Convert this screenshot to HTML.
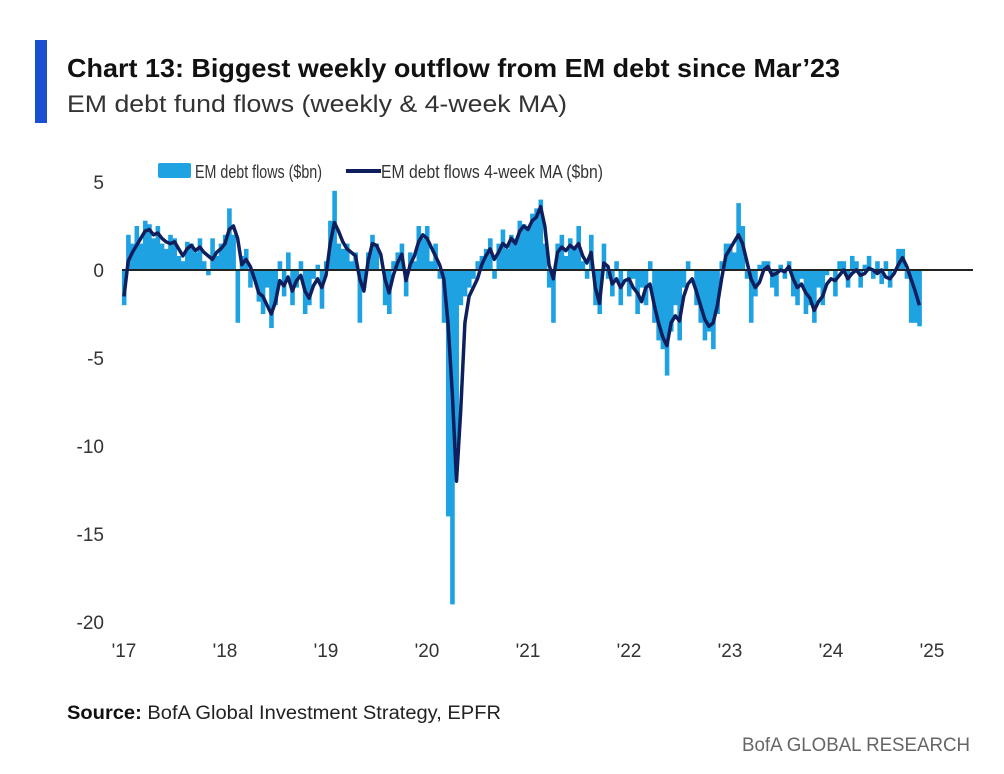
<!DOCTYPE html>
<html><head><meta charset="utf-8"><style>
html,body{margin:0;padding:0;background:#fff;}
svg{display:block;font-family:"Liberation Sans Narrow","Liberation Sans",sans-serif;}
</style></head><body>
<svg id="chart" width="1004" height="774" viewBox="0 0 1004 774" xmlns="http://www.w3.org/2000/svg">
<rect x="35" y="40" width="12" height="83" fill="#1b4fd1"/>
<text x="67" y="77" font-size="26" font-weight="bold" fill="#111" textLength="773" lengthAdjust="spacingAndGlyphs">Chart 13: Biggest weekly outflow from EM debt since Mar’23</text>
<text x="67" y="112" font-size="24" fill="#333" textLength="500" lengthAdjust="spacingAndGlyphs">EM debt fund flows (weekly &amp; 4-week MA)</text>
<g id="legend">
<rect x="158" y="163" width="33" height="15" rx="2" fill="#1fa2e2"/>
<text x="195" y="178" font-size="18" fill="#333" textLength="127" lengthAdjust="spacingAndGlyphs">EM debt flows ($bn)</text>
<line x1="346" y1="171" x2="381" y2="171" stroke="#0f1f5e" stroke-width="4"/>
<text x="381" y="178" font-size="18" fill="#333" textLength="222" lengthAdjust="spacingAndGlyphs">EM debt flows 4-week MA ($bn)</text>
</g>
<g id="yaxis"></g>
<g id="xaxis"></g>
<g id="bars"></g>
<line x1="122" y1="270" x2="973" y2="270" stroke="#222" stroke-width="2" id="zero"/>
<path id="maline" fill="none" stroke="#0f1f5e" stroke-width="3.5" stroke-linejoin="round"/>
<text x="67" y="719" font-size="19" fill="#222" textLength="434" lengthAdjust="spacingAndGlyphs"><tspan font-weight="bold" fill="#111">Source:</tspan> BofA Global Investment Strategy, EPFR</text>
<text x="742" y="751" font-size="19" fill="#666" textLength="228" lengthAdjust="spacingAndGlyphs">BofA GLOBAL RESEARCH</text>
</svg>
<script>
const yTicks = [5, 0, -5, -10, -15, -20];
const yTickLabels = ["5", "0", "-5", "-10", "-15", "-20"];
const xYears = [2017, 2018, 2019, 2020, 2021, 2022, 2023, 2024, 2025];
const xTickLabels = ["'17", "'18", "'19", "'20", "'21", "'22", "'23", "'24", "'25"];
const maValues = [
-1.5,0.5,1.0,1.4,1.8,2.2,2.3,2.0,2.1,1.8,1.6,1.5,1.6,1.2,0.8,1.2,1.4,1.1,1.3,1.0,0.8,0.6,1.0,1.2,
1.5,2.3,2.5,1.8,0.3,0.6,0.2,-0.5,-1.3,-1.5,-2.0,-2.5,-1.8,-0.6,-0.9,-0.4,-1.2,-0.6,-0.3,-1.2,-1.6,-0.9,-0.5,-1.0,
-0.3,1.5,2.7,2.2,1.6,1.2,1.0,0.8,-0.5,-1.2,0.5,1.5,1.4,0.9,-0.5,-1.3,-0.3,0.4,0.9,-0.6,0.3,0.8,1.6,2.0,
1.8,1.3,0.8,0.3,-0.5,-3.0,-7.0,-12.0,-8.0,-3.0,-1.5,-1.0,-0.5,0.3,0.8,1.2,0.6,1.0,1.5,1.3,1.8,1.5,2.2,2.5,
2.3,2.8,3.0,3.6,2.5,0.3,-0.5,1.0,1.3,1.1,1.4,1.2,1.5,0.8,0.4,1.0,-1.0,-1.9,0.4,0.2,-0.8,-0.5,-1.0,-0.6,
-0.5,-1.0,-1.3,-1.8,-1.0,-0.8,-2.0,-3.0,-3.8,-4.3,-3.0,-2.6,-2.9,-1.5,-0.8,-0.5,-1.2,-2.0,-2.8,-3.2,-3.0,-2.0,-0.5,0.8,
1.2,1.6,2.0,1.5,0.5,-0.5,-1.0,-0.7,0.0,0.2,-0.3,-0.2,0.0,-0.1,0.2,-0.5,-1.0,-0.8,-1.3,-1.6,-2.3,-1.8,-1.5,-0.8,
-0.5,-0.6,-0.3,0.0,-0.5,-0.2,0.0,-0.3,-0.2,0.1,0.0,-0.2,0.0,-0.4,-0.5,-0.2,0.3,0.7,0.2,-0.5,-1.2,-2.0
];
const flowValues = [
-2.0,2.0,1.5,2.5,1.5,2.8,2.6,1.8,2.5,1.5,1.2,2.0,1.8,0.8,0.5,1.6,1.5,1.0,1.8,0.5,-0.3,1.8,0.8,1.5,
2.0,3.5,2.0,-3.0,0.8,1.2,-1.0,-0.5,-1.8,-2.5,-1.0,-3.3,-2.0,0.5,-1.5,1.0,-2.0,-1.0,0.5,-2.5,-2.0,-0.5,0.3,-2.2,
0.5,2.8,4.5,1.5,1.2,1.5,0.5,1.0,-3.0,-1.0,1.0,2.0,1.5,0.0,-2.0,-2.5,0.5,1.0,1.5,-1.5,1.0,0.5,2.5,1.8,
2.5,0.5,1.5,-0.5,-3.0,-14.0,-19.0,-10.0,-2.0,-1.5,-1.0,-0.5,0.5,0.8,1.2,1.8,-0.5,1.5,2.3,1.2,2.0,1.8,2.8,2.6,
2.5,3.2,3.5,4.0,1.5,-1.0,-3.0,1.5,2.0,0.8,1.8,1.2,2.5,0.5,-0.5,2.0,-2.0,-2.5,1.5,-0.5,-1.5,0.5,-2.0,0.0,
-1.5,-0.5,-2.5,-1.0,-2.0,0.5,-3.0,-4.0,-4.5,-6.0,-3.5,-2.0,-4.0,-1.0,0.5,0.0,-2.0,-3.0,-4.0,-3.5,-4.5,-2.5,0.5,1.5,
1.5,1.0,3.8,2.5,-0.5,-3.0,-1.5,0.3,0.5,0.5,-1.0,-1.5,0.3,-0.5,0.5,-1.5,-2.0,-0.5,-2.5,-2.0,-3.0,-1.0,-2.0,-0.3,
0.0,-1.5,0.5,0.5,-1.0,0.8,0.5,-1.0,0.3,0.8,-0.5,0.5,-0.8,0.5,-1.0,0.0,1.2,1.2,-0.5,-3.0,-3.0,-3.2
];
const NS="http://www.w3.org/2000/svg";
function yScale(v){ return 270 - v*17.6; }
function xYear(yr){ return 124 + (yr-2017)*101; }
function xIndex(i){ return xYear(2017 + i/24); }
const yAxis=document.getElementById('yaxis');
yTicks.forEach((t,k)=>{
  const el=document.createElementNS(NS,'text');
  el.setAttribute('x',104); el.setAttribute('y',yScale(t)+7);
  el.setAttribute('text-anchor','end'); el.setAttribute('font-size','19'); el.setAttribute('fill','#333');
  
  
  el.textContent=yTickLabels[k]; yAxis.appendChild(el);
});
const xAxis=document.getElementById('xaxis');
xYears.forEach((yr,k)=>{
  const el=document.createElementNS(NS,'text');
  el.setAttribute('x',xYear(yr)); el.setAttribute('y',657);
  el.setAttribute('text-anchor','middle'); el.setAttribute('font-size','19'); el.setAttribute('fill','#333');
  
  
  el.textContent=xTickLabels[k]; xAxis.appendChild(el);
});
const bars=document.getElementById('bars');
const w=101/24;
flowValues.forEach((v,i)=>{
  const r=document.createElementNS(NS,'rect');
  const x=xIndex(i)-w/2, y0=yScale(0), y1=yScale(v);
  r.setAttribute('x',x); r.setAttribute('width',w+0.4);
  r.setAttribute('y',Math.min(y0,y1)); r.setAttribute('height',Math.abs(y1-y0));
  r.setAttribute('fill','#1fa2e2');
  
  
  bars.appendChild(r);
});
let d='';
maValues.forEach((v,i)=>{ d+=(i?'L':'M')+xIndex(i).toFixed(1)+' '+yScale(v).toFixed(1); });
document.getElementById('maline').setAttribute('d',d);
</script>
</body></html>
